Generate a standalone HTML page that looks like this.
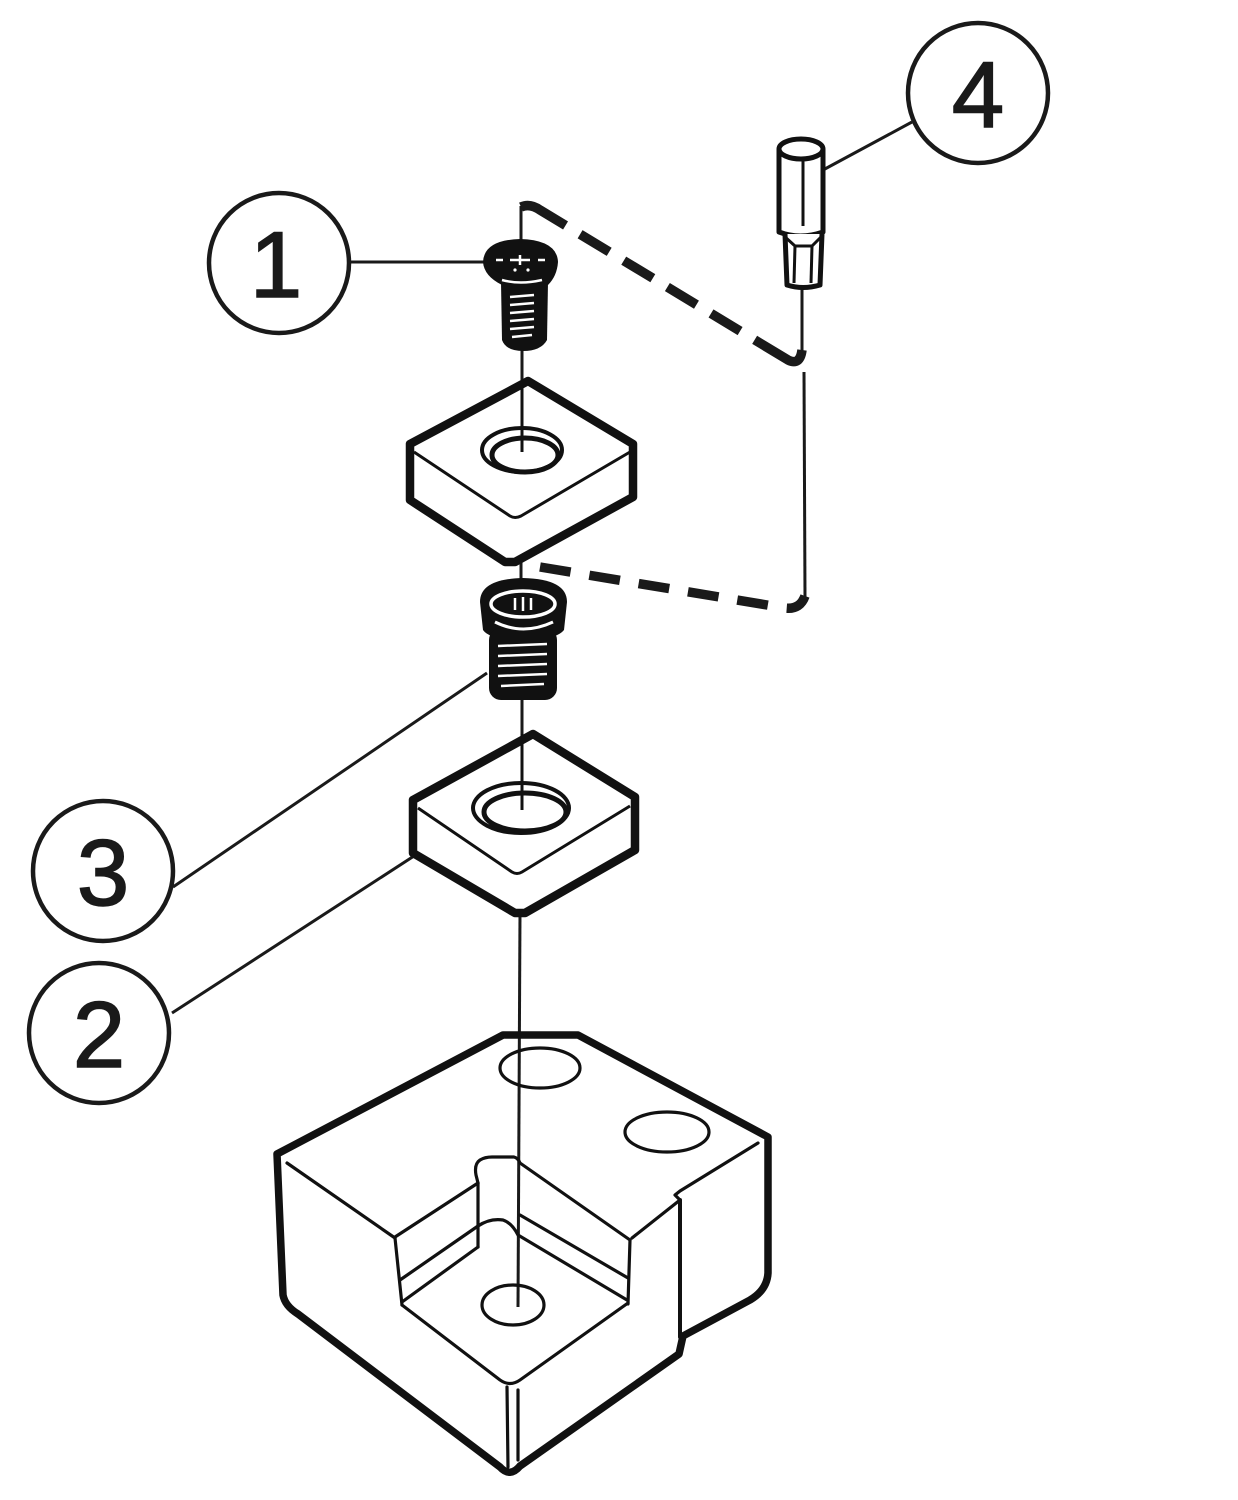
<!DOCTYPE html>
<html>
<head>
<meta charset="utf-8">
<style>
  html,body{margin:0;padding:0;background:#fff;}
  svg{display:block;}
  text{font-family:"Liberation Sans",Arial,sans-serif;}
</style>
</head>
<body>
<svg width="1238" height="1500" viewBox="0 0 1238 1500" xmlns="http://www.w3.org/2000/svg">
  <rect width="1238" height="1500" fill="#fff"/>

  <!-- ===== Callout circles ===== -->
  <g fill="none" stroke="#1a1a1a" stroke-width="4.5">
    <circle cx="279" cy="263" r="70"/>
    <circle cx="978" cy="93" r="70"/>
    <circle cx="103" cy="871" r="70"/>
    <circle cx="99" cy="1033" r="70"/>
  </g>
  <g fill="#1a1a1a" stroke="#1a1a1a" stroke-width="1.6" font-size="94" text-anchor="middle">
    <text x="276" y="297">1</text>
    <text x="978" y="127">4</text>
    <text x="103" y="905">3</text>
    <text x="99" y="1067">2</text>
  </g>

  <!-- leaders -->
  <g stroke="#1a1a1a" stroke-width="3" fill="none">
    <line x1="348" y1="262" x2="486" y2="262"/>
    <line x1="912" y1="122" x2="823" y2="170"/>
    <line x1="173" y1="887" x2="487" y2="673"/>
    <line x1="172" y1="1013" x2="414" y2="856"/>
  </g>

  <!-- ===== Center lines ===== -->
  <g stroke="#1a1a1a" stroke-width="3" fill="none">
    <line x1="521" y1="206" x2="521" y2="245"/>
    <line x1="522" y1="350" x2="522" y2="452"/>
    <line x1="521" y1="562" x2="521" y2="580"/>
    <line x1="522" y1="700" x2="522" y2="810"/>
    <line x1="520" y1="913" x2="518" y2="1307"/>
    <line x1="802" y1="287" x2="802" y2="352"/>
    <line x1="804" y1="372" x2="805" y2="598"/>
  </g>

  <!-- ===== Dashed lines ===== -->
  <g stroke="#1a1a1a" stroke-width="9.5" fill="none" stroke-linecap="butt">
    <path d="M 521 207 Q 530 203 540 210 L 788 360 Q 800 366 802 350" stroke-dasharray="50 17 34 17 34 17 34 17 34 17 70"/>
    <path d="M 540 567 L 785 608 Q 800 610 805 596" stroke-dasharray="31 19"/>
  </g>

  <!-- ===== Screw 1 ===== -->
  <g>
    <path d="M 483 262 Q 484 240 520 239 Q 557 240 558 262 Q 557 276 548 285 L 502 285 Q 484 276 483 262 Z" fill="#111"/>
    <path d="M 501 282 L 548 282 L 547 340 Q 541 351 523 351 Q 506 351 502 340 Z" fill="#111"/>
    <g stroke="#fff" stroke-width="2.5" fill="none">
      <line x1="496" y1="260" x2="503" y2="260"/>
      <line x1="538" y1="260" x2="545" y2="260"/>
      <line x1="510" y1="260" x2="530" y2="260"/>
      <line x1="520" y1="255" x2="520" y2="265"/>
      <path d="M 502 280 Q 520 285 542 280"/>
      <line x1="510" y1="297" x2="534" y2="295"/>
      <line x1="510" y1="305" x2="534" y2="303"/>
      <line x1="510" y1="313" x2="534" y2="311"/>
      <line x1="510" y1="321" x2="534" y2="319"/>
      <line x1="510" y1="329" x2="534" y2="327"/>
      <line x1="512" y1="337" x2="532" y2="335"/>
    </g>
    <circle cx="515" cy="270" r="1.6" fill="#fff"/>
    <circle cx="528" cy="270" r="1.6" fill="#fff"/>
  </g>

  <!-- ===== Upper insert ===== -->
  <g fill="none" stroke="#111" stroke-linejoin="round">
    <path d="M 528 381 L 633 444 L 633 497 L 515 562 L 505 562 L 410 500 L 410 444 Z" stroke-width="8.5" fill="#fff"/>
    <path d="M 414 452 L 510 516 Q 515 519 521 516 L 630 452" stroke-width="3"/>
    <ellipse cx="522" cy="450" rx="40" ry="22" stroke-width="4"/>
    <ellipse cx="525" cy="455" rx="33" ry="17" stroke-width="5"/>
  </g>
  <line x1="522" y1="381" x2="522" y2="452" stroke="#111" stroke-width="3"/>

  <!-- ===== Screw 3 ===== -->
  <g>
    <path d="M 480 602 Q 480 579 523 578 Q 567 579 567 602 L 564 630 Q 556 640 523 640 Q 490 640 483 630 Z" fill="#111"/>
    <rect x="489" y="628" width="68" height="72" rx="12" fill="#111"/>
    <g stroke="#fff" fill="none">
      <ellipse cx="523" cy="604" rx="32" ry="13" stroke-width="3.5"/>
      <line x1="515" y1="598" x2="515" y2="610" stroke-width="2.5"/>
      <line x1="523" y1="597" x2="523" y2="611" stroke-width="2.5"/>
      <line x1="531" y1="598" x2="531" y2="610" stroke-width="2.5"/>
      <path d="M 495 622 Q 523 636 553 622" stroke-width="3"/>
      <line x1="498" y1="646" x2="547" y2="644" stroke-width="2.5"/>
      <line x1="498" y1="656" x2="547" y2="654" stroke-width="2.5"/>
      <line x1="498" y1="666" x2="547" y2="664" stroke-width="2.5"/>
      <line x1="498" y1="676" x2="547" y2="674" stroke-width="2.5"/>
      <line x1="501" y1="686" x2="544" y2="684" stroke-width="2.5"/>
    </g>
  </g>

  <!-- ===== Lower insert ===== -->
  <g fill="none" stroke="#111" stroke-linejoin="round">
    <path d="M 533 734 L 635 797 L 635 850 L 525 913 L 515 913 L 413 853 L 413 800 Z" stroke-width="8.5" fill="#fff"/>
    <path d="M 418 808 L 512 872 Q 517 875 522 872 L 630 806" stroke-width="3"/>
    <ellipse cx="521" cy="808" rx="48" ry="25" stroke-width="4"/>
    <ellipse cx="525" cy="812" rx="41" ry="19" stroke-width="5"/>
  </g>
  <line x1="522" y1="734" x2="522" y2="810" stroke="#111" stroke-width="3"/>

  <!-- ===== Tool 4 ===== -->
  <g fill="#fff" stroke="#111" stroke-width="5" stroke-linejoin="round">
    <path d="M 779 150 L 779 232 Q 800 240 823 232 L 823 150 Z"/>
    <ellipse cx="801" cy="149" rx="22" ry="10"/>
    <path d="M 785 234 L 787 285 Q 803 290 820 285 L 822 234"/>
  </g>
  <g fill="none" stroke="#111" stroke-width="3">
    <line x1="803" y1="159" x2="803" y2="226"/>
    <path d="M 784 236 L 795 246 L 812 246 L 822 236"/>
    <line x1="795" y1="246" x2="794" y2="283"/>
    <line x1="812" y1="246" x2="811" y2="283"/>
  </g>

  <!-- ===== Body ===== -->
  <g fill="none" stroke="#111" stroke-linejoin="round" stroke-linecap="round">
    <path d="M 503 1035 L 578 1035 L 768 1137 L 768 1273 Q 767 1290 750 1300 L 683 1336 L 679 1354 L 520 1466 Q 510 1478 500 1467 L 298 1314 Q 285 1306 283 1295 L 277 1154 Z" stroke-width="7.5"/>
    <g stroke-width="3.2">
      <ellipse cx="540" cy="1068" rx="40" ry="20"/>
      <ellipse cx="667" cy="1132" rx="42" ry="20"/>
      <line x1="287" y1="1163" x2="395" y2="1238"/>
      <path d="M 758 1143 L 680 1191 L 675 1195 L 680 1200 L 632 1238"/>
      <line x1="680" y1="1200" x2="680" y2="1337" stroke-width="4"/>
      <line x1="395" y1="1238" x2="402" y2="1305"/>
      <line x1="395" y1="1237" x2="478" y2="1183"/>
      <path d="M 478 1183 L 476 1175 Q 474 1164 480 1160 Q 485 1157 492 1157 L 514 1157 Q 518 1158 520 1163 L 630 1240"/>
      <line x1="478" y1="1183" x2="478" y2="1247"/>
      <line x1="400" y1="1280" x2="478" y2="1226"/>
      <line x1="402" y1="1302" x2="478" y2="1247"/>
      <path d="M 478 1226 Q 490 1218 503 1220 Q 512 1223 518 1235 L 627 1300"/>
      <line x1="520" y1="1215" x2="628" y2="1278"/>
      <line x1="630" y1="1240" x2="628" y2="1304"/>
      <path d="M 402 1305 L 500 1380 Q 510 1387 520 1380 L 628 1303"/>
      <ellipse cx="513" cy="1305" rx="31" ry="20"/>
      <line x1="507" y1="1387" x2="508" y2="1467"/>
      <line x1="518" y1="1390" x2="518" y2="1460"/>
    </g>
  </g>
</svg>
</body>
</html>
